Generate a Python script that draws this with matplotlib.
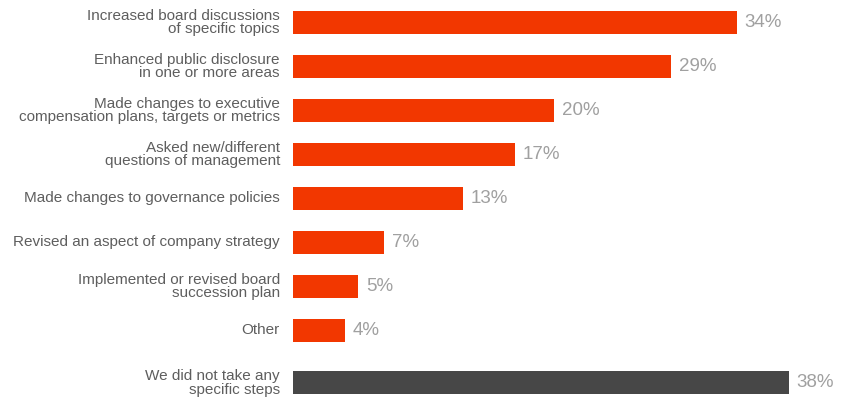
#!/usr/bin/env python3

import matplotlib.pyplot as plt
import numpy as np

labels = ['Increased board discussions\nof specific topics',
          'Enhanced public disclosure\nin one or more areas',
          'Made changes to executive\ncompensation plans, targets or metrics',
          'Asked new/different\nquestions of management',
          'Made changes to governance policies',
          'Revised an aspect of company strategy',
          'Implemented or revised board\nsuccession plan',
          'Other',
          'We did not take any\nspecific steps']
values = [34, 29, 20, 17, 13, 7, 5, 4, 38]
colors = ['#F23700'] * 8 + ['#474747']

# last bar sits a little further down than the rest
ypos = np.arange(len(values), dtype=float)
ypos[-1] += 0.19

plt.rcParams['font.family'] = ['Liberation Sans', 'DejaVu Sans']

fig = plt.figure(figsize=(8.44, 4.03), dpi=100)
ax = fig.add_axes([293/844, 0, 1 - 293/844, 1])
ax.barh(ypos, values, height=0.53, color=colors)
ax.set_ylim(8.65, -0.51)
ax.set_xlim(0, 551/13.05)

for y, v in zip(ypos, values):
    ax.text(v + 0.6, y, f'{v}%', va='center', ha='left', fontsize=13.5, color='#a0a0a0')

for y, lab in zip(ypos, labels):
    ax.text(-1.0, y, lab, va='center', ha='right', fontsize=11, color='#5e5e5e',
            linespacing=0.98)

ax.axis('off')
fig.savefig('out.png', dpi=100)
